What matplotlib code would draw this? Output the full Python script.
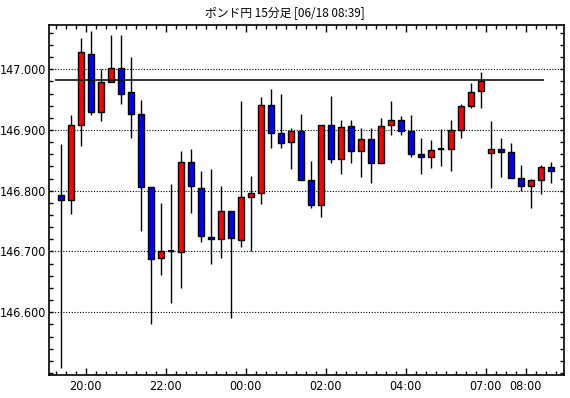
import numpy as np
import matplotlib
matplotlib.use("Agg")
import matplotlib.pyplot as plt
from matplotlib import font_manager
from matplotlib.ticker import FixedLocator, FormatStrFormatter

# %%
# ポンド円 15分足 (OHLC, 左から古い順)
opens = [146.793, 146.785, 146.908, 147.025, 146.929, 146.979, 147.002, 146.962, 146.926, 146.806,
         146.689, 146.700, 146.699, 146.847, 146.804, 146.724, 146.720, 146.767, 146.719, 146.789,
         146.796, 146.941, 146.895, 146.880, 146.898, 146.817, 146.776, 146.909, 146.852, 146.906,
         146.865, 146.885, 146.845, 146.908, 146.916, 146.898, 146.860, 146.855, 146.868, 146.868,
         146.900, 146.939, 146.964, 146.862, 146.868, 146.863, 146.821, 146.807, 146.817, 146.839]
highs = [146.877, 146.925, 147.051, 147.063, 147.000, 147.056, 147.056, 147.021, 146.949, 146.806,
         146.780, 146.811, 146.866, 146.869, 146.833, 146.836, 146.808, 146.767, 146.948, 146.824,
         146.954, 146.968, 146.959, 146.903, 146.926, 146.849, 146.909, 146.956, 146.917, 146.917,
         146.903, 146.903, 146.919, 146.948, 146.923, 146.924, 146.887, 146.884, 146.901, 146.917,
         146.943, 146.978, 146.996, 146.915, 146.887, 146.879, 146.842, 146.819, 146.842, 146.847]
lows = [146.508, 146.761, 146.873, 146.925, 146.914, 146.979, 146.942, 146.887, 146.734, 146.580,
        146.661, 146.616, 146.640, 146.763, 146.715, 146.679, 146.690, 146.590, 146.708, 146.701,
        146.779, 146.871, 146.871, 146.835, 146.817, 146.771, 146.756, 146.846, 146.828, 146.846,
        146.823, 146.813, 146.845, 146.892, 146.892, 146.856, 146.827, 146.838, 146.840, 146.833,
        146.887, 146.937, 146.937, 146.805, 146.822, 146.821, 146.799, 146.771, 146.794, 146.813]
closes = [146.784, 146.908, 147.028, 146.929, 146.979, 147.002, 146.960, 146.926, 146.806, 146.687,
          146.700, 146.700, 146.847, 146.808, 146.726, 146.720, 146.767, 146.722, 146.789, 146.796,
          146.941, 146.895, 146.878, 146.898, 146.817, 146.776, 146.909, 146.852, 146.905, 146.865,
          146.885, 146.845, 146.907, 146.916, 146.898, 146.860, 146.855, 146.867, 146.868, 146.900,
          146.939, 146.963, 146.981, 146.868, 146.863, 146.821, 146.807, 146.817, 146.839, 146.832]

ref_price = 146.982

time_label_bars = [3, 11, 19, 27, 35, 43, 47]
time_labels = ["20:00", "22:00", "00:00", "02:00", "04:00", "07:00", "08:00"]
price_ticks = [146.6, 146.7, 146.8, 146.9, 147.0]

title = "ポンド円 15分足 [06/18 08:39]"

# %%
# 目盛り用の細いフォント (無ければ DejaVu Sans を小さめに)
narrow = [f.fname for f in font_manager.fontManager.ttflist
          if ("Narrow" in f.name or "Condensed" in f.fname) and f.style == "normal"
          and f.weight in (400, "normal")]
if narrow:
    tick_font = font_manager.FontProperties(fname=narrow[0], size=9)
else:
    tick_font = font_manager.FontProperties(family="DejaVu Sans", size=7)

# %%
o = np.array(opens)
h = np.array(highs)
l = np.array(lows)
c = np.array(closes)
idx = np.arange(len(o))

colors = np.where(c > o, "#ff0000", np.where(c < o, "#0000ff", "black"))

fig = plt.figure(figsize=(5.7, 3.98), dpi=100)
ax = fig.add_axes([0.086, 0.058, 0.9035, 0.880])

ax.vlines(idx, l, h, color="black", linewidth=1.0, zorder=2)
body_bottom = np.minimum(o, c)
body_height = np.abs(c - o)
ax.bar(idx, body_height, bottom=body_bottom, width=0.6, color=colors,
       edgecolor="black", linewidth=1.0, zorder=3)
doji = body_height == 0
ax.hlines(o[doji], idx[doji] - 0.3, idx[doji] + 0.3, color="black", linewidth=1.5, zorder=3)

ax.hlines(ref_price, -0.55, len(o) - 1.65, color="black", linewidth=1.1, zorder=4)

ax.set_xlim(-1.15, len(o) + 0.35)
ax.set_ylim(146.4968, 147.0734)

# 目盛り
ax.xaxis.set_major_locator(FixedLocator([b - 0.5 for b in time_label_bars]))
ax.set_xticklabels(time_labels)
ax.xaxis.set_minor_locator(FixedLocator(np.arange(len(o) + 2) - 0.5))
ax.yaxis.set_major_locator(FixedLocator(price_ticks))
ax.yaxis.set_minor_locator(FixedLocator(np.arange(146.50, 147.07, 0.02)))
ax.yaxis.set_major_formatter(FormatStrFormatter("%.3f"))

ax.tick_params(axis="both", which="both", direction="in", top=True, right=True,
               color="black", width=1.0)
ax.tick_params(axis="x", which="major", length=5, pad=4)
ax.tick_params(axis="x", which="minor", length=3)
ax.tick_params(axis="y", which="both", length=3, pad=2)
for lab in ax.get_xticklabels() + ax.get_yticklabels():
    lab.set_fontproperties(tick_font)

ax.grid(axis="y", which="major", linestyle=(0, (1, 1.5)), color="black", linewidth=0.8)
for sp in ax.spines.values():
    sp.set_linewidth(1.2)

fig.text(0.5, 0.967, title, ha="center", va="center", fontsize=8.5,
         family=["Noto Sans CJK JP", "DejaVu Sans"])

fig.savefig("out.png", dpi=100)
